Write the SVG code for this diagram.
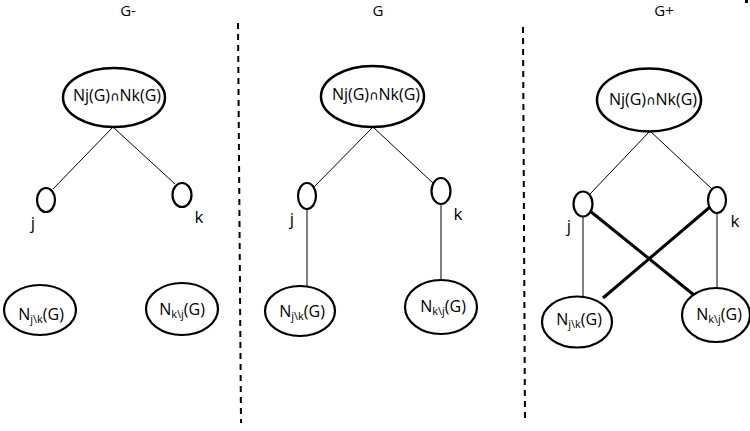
<svg xmlns="http://www.w3.org/2000/svg" width="750" height="431" viewBox="0 0 750 431">
<style>
text{font-family:"Open Sans","DejaVu Sans",sans-serif;fill:#000}
.t{font-size:15px;text-anchor:middle}
.big{fill:#fff;stroke:#000;stroke-width:2.5}
.sm{fill:#fff;stroke:#000;stroke-width:2.2}
.lbl{font-size:17px;text-anchor:middle}
.thin{stroke:#000;stroke-width:1;fill:none}
.thick{stroke:#000;stroke-width:3;fill:none}
.dash{stroke:#000;stroke-width:2;stroke-dasharray:6 5;fill:none}
.cap{font-size:13px}
.sub{font-size:11px}
</style>
<rect width="750" height="431" fill="#fff"/>
<rect x="745" y="0" width="3" height="3" fill="#000"/>
<g id="titles">
<text class="t" x="128" y="16">G-</text>
<text class="t" x="378" y="16">G</text>
<text class="t" x="664" y="16">G+</text>
</g>
<g id="dividers">
<line class="dash" x1="238" y1="23" x2="241" y2="423"/>
<line class="dash" x1="523" y1="27" x2="525" y2="423"/>
</g>
<g id="connectors">
<line class="thin" x1="113" y1="127" x2="53" y2="189"/>
<line class="thin" x1="113" y1="127" x2="175" y2="184"/>
<line class="thin" x1="373" y1="127" x2="314" y2="187"/>
<line class="thin" x1="373" y1="127" x2="433" y2="183"/>
<line class="thin" x1="307" y1="209" x2="307" y2="287"/>
<line class="thin" x1="441" y1="204" x2="441" y2="281"/>
<line class="thin" x1="650" y1="131" x2="590" y2="194"/>
<line class="thin" x1="650" y1="131" x2="712" y2="189"/>
<line class="thin" x1="583" y1="216" x2="583" y2="297" stroke="#444"/>
<line class="thin" x1="717" y1="212" x2="717" y2="289" stroke="#444"/>
<line class="thick" x1="590" y1="211" x2="694" y2="295"/>
<line class="thick" x1="710" y1="207" x2="603" y2="298"/>
</g>
<g id="gm-top"><ellipse class="big" cx="114" cy="97.5" rx="51" ry="29.5"/><text x="117" y="101" font-size="16" text-anchor="middle">Nj(G)<tspan class="cap">∩</tspan>Nk(G)</text></g>
<g id="gm-j"><ellipse class="sm" cx="46" cy="200" rx="9" ry="12"/><text class="lbl" x="33" y="229">j</text></g>
<g id="gm-k"><ellipse class="sm" cx="182" cy="195" rx="9.5" ry="12"/><text class="lbl" x="199" y="223">k</text></g>
<g id="gm-njk"><ellipse class="sm" cx="40" cy="310" rx="36" ry="25"/><text x="41" y="320" font-size="16" text-anchor="middle">N<tspan class="sub" dy="3">j\k</tspan><tspan dy="-3">(G)</tspan></text></g>
<g id="gm-nkj"><ellipse class="sm" cx="182" cy="309" rx="36" ry="26"/><text x="182" y="315" font-size="16" text-anchor="middle">N<tspan class="sub" dy="3">k\j</tspan><tspan dy="-3">(G)</tspan></text></g>
<g id="g-top"><ellipse class="big" cx="372.5" cy="96.5" rx="51.5" ry="30.5"/><text x="376" y="100" font-size="16" text-anchor="middle">Nj(G)<tspan class="cap">∩</tspan>Nk(G)</text></g>
<g id="g-j"><ellipse class="sm" cx="307" cy="196" rx="9" ry="13"/><text class="lbl" x="292" y="225">j</text></g>
<g id="g-k"><ellipse class="sm" cx="441" cy="191" rx="9.5" ry="13"/><text class="lbl" x="458" y="220">k</text></g>
<g id="g-njk"><ellipse class="sm" cx="300" cy="311" rx="35" ry="25"/><text x="302" y="317" font-size="16" text-anchor="middle">N<tspan class="sub" dy="3">j\k</tspan><tspan dy="-3">(G)</tspan></text></g>
<g id="g-nkj"><ellipse class="sm" cx="441" cy="307" rx="36" ry="27"/><text x="443" y="312" font-size="16" text-anchor="middle">N<tspan class="sub" dy="3">k\j</tspan><tspan dy="-3">(G)</tspan></text></g>
<g id="gp-top"><ellipse class="big" cx="649" cy="100" rx="52" ry="31.5"/><text x="653" y="105" font-size="16" text-anchor="middle">Nj(G)<tspan class="cap">∩</tspan>Nk(G)</text></g>
<g id="gp-j"><ellipse class="sm" cx="583" cy="204" rx="9.5" ry="12.5"/><text class="lbl" x="569" y="232">j</text></g>
<g id="gp-k"><ellipse class="sm" cx="717" cy="200" rx="9" ry="13"/><text class="lbl" x="735" y="227">k</text></g>
<g id="gp-njk"><ellipse class="sm" cx="577" cy="322" rx="35" ry="25.5"/><text x="579" y="325" font-size="16" text-anchor="middle">N<tspan class="sub" dy="3">j\k</tspan><tspan dy="-3">(G)</tspan></text></g>
<g id="gp-nkj"><ellipse class="sm" cx="716" cy="315" rx="34" ry="27"/><text x="719" y="320" font-size="16" text-anchor="middle">N<tspan class="sub" dy="3">k\j</tspan><tspan dy="-3">(G)</tspan></text></g>
</svg>
